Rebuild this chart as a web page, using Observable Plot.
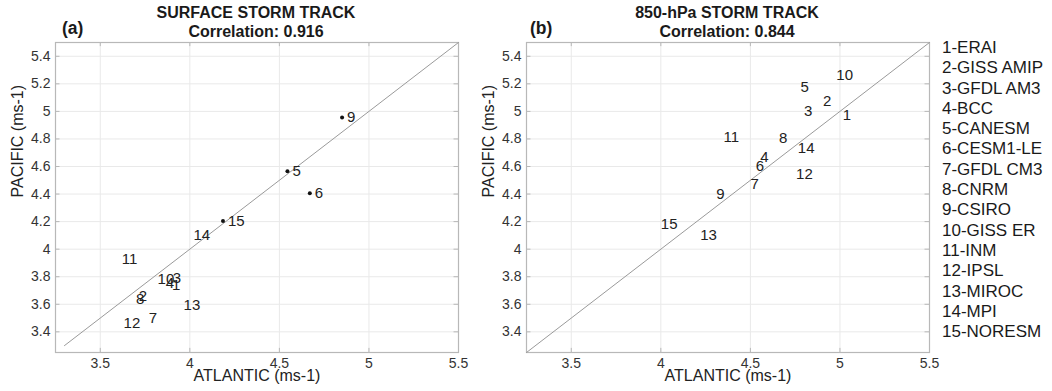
<!DOCTYPE html>
<html><head><meta charset="utf-8">
<script src="https://cdn.jsdelivr.net/npm/d3@7"></script>
<script src="https://cdn.jsdelivr.net/npm/@observablehq/plot@0.6"></script>
<style>
body{margin:0;background:#fff;font-family:"Liberation Sans",Arial,Helvetica,sans-serif;}
#wrap{position:relative;width:1052px;height:391px;overflow:hidden;background:#fff}
.abs{position:absolute;color:#1a1a1a;white-space:nowrap}
.title{font-weight:bold;font-size:16px;text-align:center;line-height:19px;width:300px}
.tag{font-weight:bold;font-size:17.5px;line-height:20px}
#legend{font-size:17px;line-height:20.3px}
.panel{position:absolute;top:0}
</style></head>
<body>
<div id="wrap">
  <div class="abs tag" style="left:62px;top:18px">(a)</div>
  <div class="abs title" style="left:106px;top:3px">SURFACE STORM TRACK<br>Correlation: 0.916</div>
  <div class="abs tag" style="left:530px;top:18px">(b)</div>
  <div class="abs title" style="left:577px;top:3px">850-hPa STORM TRACK<br>Correlation: 0.844</div>
  <div id="p1" class="panel" style="left:0px"></div>
  <div id="p2" class="panel" style="left:470px"></div>
  <div id="legend" class="abs" style="left:942px;top:38px"></div>
</div>
<script>
// ---- data ----
const ids = [1,2,3,4,5,6,7,8,9,10,11,12,13,14,15];
const models = ["ERAI","GISS AMIP","GFDL AM3","BCC","CANESM","CESM1-LE","GFDL CM3","CNRM","CSIRO","GISS ER","INM","IPSL","MIROC","MPI","NORESM"];
// Surface storm track (panel a)
const surfAtlantic = [3.90,3.715,3.905,3.865,4.545,4.67,3.77,3.70,4.85,3.82,3.62,3.63,3.965,4.02,4.185];
const surfPacific  = [3.74,3.66,3.79,3.75,4.565,4.405,3.50,3.635,4.955,3.785,3.93,3.465,3.59,4.10,4.205];
const surfMarked   = [5,6,9,15];
// 850-hPa storm track (panel b)
const lev850Atlantic = [5.015,4.905,4.80,4.555,4.78,4.53,4.50,4.66,4.31,4.98,4.35,4.755,4.22,4.765,4.00];
const lev850Pacific  = [4.975,5.075,5.005,4.665,5.175,4.60,4.47,4.805,4.40,5.265,4.815,4.545,4.10,4.73,4.18];
const lev850Marked   = [];
// axes
const xTicks = [3.5,4,4.5,5,5.5];
const yTicks = [3.4,3.6,3.8,4,4.2,4.4,4.6,4.8,5,5.2,5.4];
const axisDomain = [3.25,5.5];
const diagA = [3.3,5.5];
const diagB = [3.25,5.5];
const xLabel = "ATLANTIC (ms-1)";
const yLabel = "PACIFIC (ms-1)";

function panel(atl, pac, marked, diag, mLeft) {
  const data = ids.map((id,i)=>({id, x:atl[i], y:pac[i], m: marked.includes(id)}));
  const d0 = axisDomain[0], d1 = axisDomain[1];
  const frameC = "#b8b8b8";
  return Plot.plot({
    width: 470, height: 391,
    marginLeft: mLeft, marginRight: 470 - mLeft - 403, marginTop: 42, marginBottom: 39,
    x: {domain: axisDomain},
    y: {domain: axisDomain},
    style: {fontFamily: "Liberation Sans, Arial, sans-serif", fontSize: "14px", color: "#333", background: "transparent"},
    marks: [
      Plot.gridX(xTicks, {stroke: "#e9e9e9", strokeOpacity: 1}),
      Plot.gridY(yTicks, {stroke: "#e9e9e9", strokeOpacity: 1}),
      Plot.ruleX(xTicks, {x: d=>d, y1: d0, y2: d0+0.03, stroke: frameC}),
      Plot.ruleX(xTicks, {x: d=>d, y1: d1-0.03, y2: d1, stroke: frameC}),
      Plot.ruleY(yTicks, {y: d=>d, x1: d0, x2: d0+0.025, stroke: frameC}),
      Plot.ruleY(yTicks, {y: d=>d, x1: d1-0.025, x2: d1, stroke: frameC}),
      Plot.frame({stroke: frameC, strokeWidth: 1.2}),
      Plot.axisX(xTicks, {tickSize: 0, tickPadding: 6, label: null, tickFormat: d=>String(d)}),
      Plot.axisY(yTicks, {tickSize: 0, tickPadding: 5, label: null, tickFormat: d=>String(d)}),
      Plot.text([xLabel], {frameAnchor: "bottom", dy: 28, text: d=>d, fontSize: 16, fill: "#222"}),
      Plot.text([yLabel], {frameAnchor: "left", dx: -38, rotate: -90, text: d=>d, fontSize: 16, fill: "#222"}),
      Plot.line(diag.map(v=>({x:v,y:v})), {x: "x", y: "y", stroke: "#9a9a9a", strokeWidth: 1}),
      Plot.dot(data.filter(d=>d.m), {x: "x", y: "y", r: 2, fill: "#111", stroke: "none"}),
      Plot.text(data.filter(d=>d.m), {x: "x", y: "y", text: "id", textAnchor: "start", dx: 5, fontSize: 15, fill: "#222"}),
      Plot.text(data.filter(d=>!d.m), {x: "x", y: "y", text: "id", textAnchor: "start", fontSize: 15, fill: "#222"})
    ]
  });
}

document.getElementById("p1").appendChild(panel(surfAtlantic, surfPacific, surfMarked, diagA, 55));
document.getElementById("p2").appendChild(panel(lev850Atlantic, lev850Pacific, lev850Marked, diagB, 56));

const lg = document.getElementById("legend");
ids.forEach((id,i)=>{ const d = document.createElement("div"); d.textContent = id + "-" + models[i]; lg.appendChild(d); });
</script>
</body></html>
